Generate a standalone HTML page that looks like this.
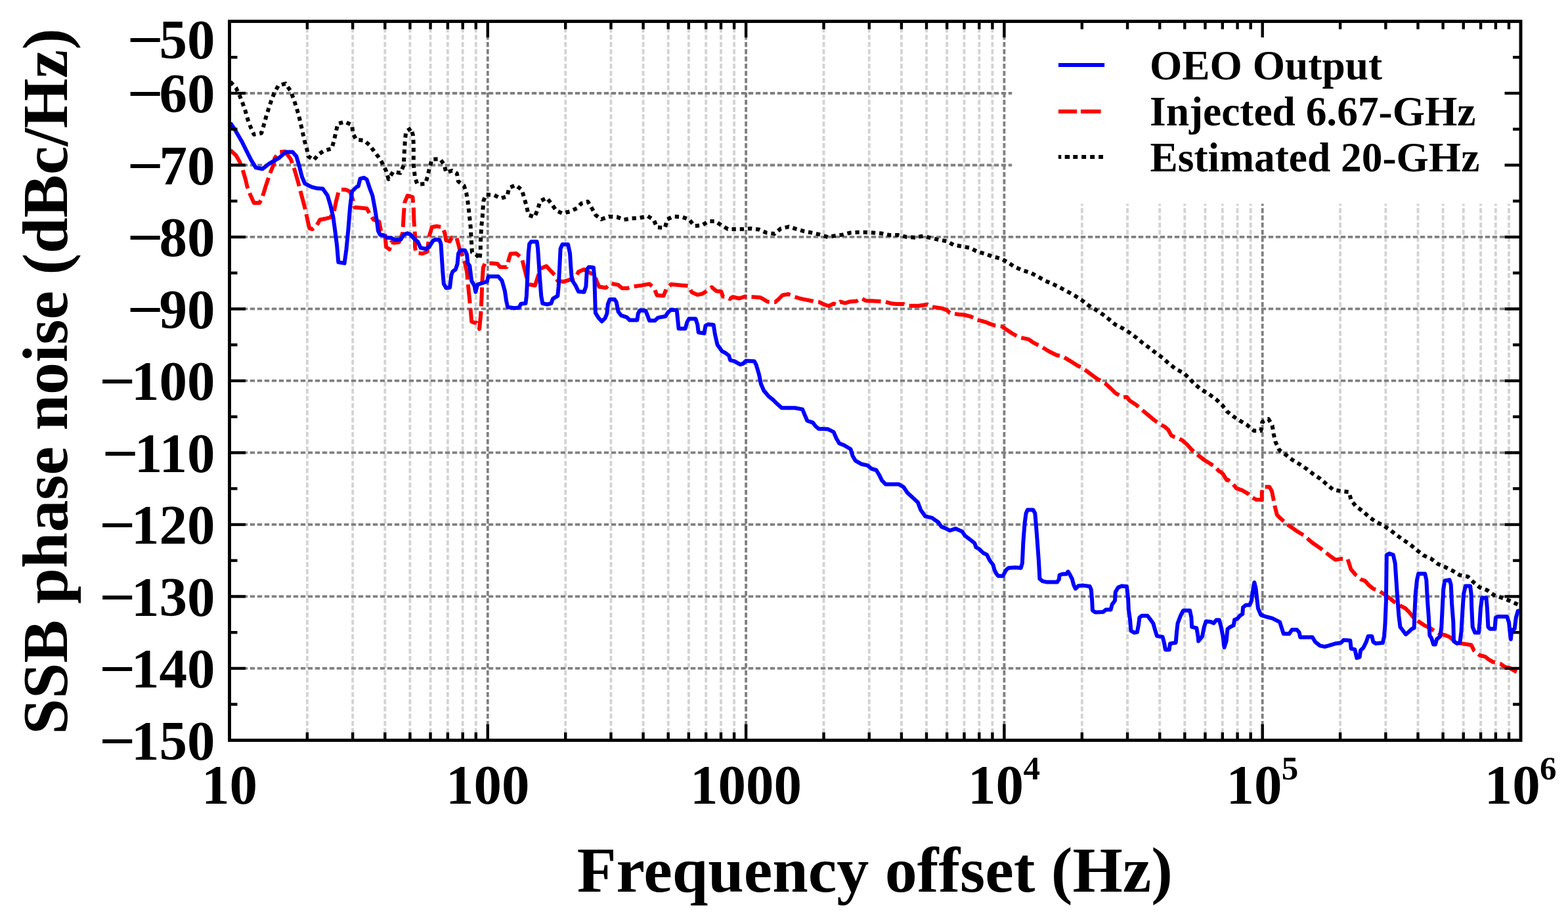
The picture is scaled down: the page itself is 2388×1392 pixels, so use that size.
<!DOCTYPE html>
<html><head><meta charset="utf-8"><title>SSB phase noise</title>
<style>html,body{margin:0;padding:0;background:#fff;}svg{display:block;}</style>
</head><body>
<svg width="2388" height="1392" viewBox="0 0 2388 1392">
<rect x="0" y="0" width="2388" height="1392" fill="#fff"/>
<line x1="467.90" y1="32.5" x2="467.90" y2="1127.4" stroke="#d3d3d3" stroke-width="3.8" stroke-dasharray="7.4 3.6" stroke-dashoffset="1.4"/>
<line x1="537.15" y1="32.5" x2="537.15" y2="1127.4" stroke="#d3d3d3" stroke-width="3.8" stroke-dasharray="7.4 3.6" stroke-dashoffset="1.4"/>
<line x1="586.29" y1="32.5" x2="586.29" y2="1127.4" stroke="#d3d3d3" stroke-width="3.8" stroke-dasharray="7.4 3.6" stroke-dashoffset="1.4"/>
<line x1="624.40" y1="32.5" x2="624.40" y2="1127.4" stroke="#d3d3d3" stroke-width="3.8" stroke-dasharray="7.4 3.6" stroke-dashoffset="1.4"/>
<line x1="655.55" y1="32.5" x2="655.55" y2="1127.4" stroke="#d3d3d3" stroke-width="3.8" stroke-dasharray="7.4 3.6" stroke-dashoffset="1.4"/>
<line x1="681.88" y1="32.5" x2="681.88" y2="1127.4" stroke="#d3d3d3" stroke-width="3.8" stroke-dasharray="7.4 3.6" stroke-dashoffset="1.4"/>
<line x1="704.69" y1="32.5" x2="704.69" y2="1127.4" stroke="#d3d3d3" stroke-width="3.8" stroke-dasharray="7.4 3.6" stroke-dashoffset="1.4"/>
<line x1="724.80" y1="32.5" x2="724.80" y2="1127.4" stroke="#d3d3d3" stroke-width="3.8" stroke-dasharray="7.4 3.6" stroke-dashoffset="1.4"/>
<line x1="861.20" y1="32.5" x2="861.20" y2="1127.4" stroke="#d3d3d3" stroke-width="3.8" stroke-dasharray="7.4 3.6" stroke-dashoffset="1.4"/>
<line x1="930.45" y1="32.5" x2="930.45" y2="1127.4" stroke="#d3d3d3" stroke-width="3.8" stroke-dasharray="7.4 3.6" stroke-dashoffset="1.4"/>
<line x1="979.59" y1="32.5" x2="979.59" y2="1127.4" stroke="#d3d3d3" stroke-width="3.8" stroke-dasharray="7.4 3.6" stroke-dashoffset="1.4"/>
<line x1="1017.70" y1="32.5" x2="1017.70" y2="1127.4" stroke="#d3d3d3" stroke-width="3.8" stroke-dasharray="7.4 3.6" stroke-dashoffset="1.4"/>
<line x1="1048.85" y1="32.5" x2="1048.85" y2="1127.4" stroke="#d3d3d3" stroke-width="3.8" stroke-dasharray="7.4 3.6" stroke-dashoffset="1.4"/>
<line x1="1075.18" y1="32.5" x2="1075.18" y2="1127.4" stroke="#d3d3d3" stroke-width="3.8" stroke-dasharray="7.4 3.6" stroke-dashoffset="1.4"/>
<line x1="1097.99" y1="32.5" x2="1097.99" y2="1127.4" stroke="#d3d3d3" stroke-width="3.8" stroke-dasharray="7.4 3.6" stroke-dashoffset="1.4"/>
<line x1="1118.10" y1="32.5" x2="1118.10" y2="1127.4" stroke="#d3d3d3" stroke-width="3.8" stroke-dasharray="7.4 3.6" stroke-dashoffset="1.4"/>
<line x1="1254.50" y1="32.5" x2="1254.50" y2="1127.4" stroke="#d3d3d3" stroke-width="3.8" stroke-dasharray="7.4 3.6" stroke-dashoffset="1.4"/>
<line x1="1323.75" y1="32.5" x2="1323.75" y2="1127.4" stroke="#d3d3d3" stroke-width="3.8" stroke-dasharray="7.4 3.6" stroke-dashoffset="1.4"/>
<line x1="1372.89" y1="32.5" x2="1372.89" y2="1127.4" stroke="#d3d3d3" stroke-width="3.8" stroke-dasharray="7.4 3.6" stroke-dashoffset="1.4"/>
<line x1="1411.00" y1="32.5" x2="1411.00" y2="1127.4" stroke="#d3d3d3" stroke-width="3.8" stroke-dasharray="7.4 3.6" stroke-dashoffset="1.4"/>
<line x1="1442.15" y1="32.5" x2="1442.15" y2="1127.4" stroke="#d3d3d3" stroke-width="3.8" stroke-dasharray="7.4 3.6" stroke-dashoffset="1.4"/>
<line x1="1468.48" y1="32.5" x2="1468.48" y2="1127.4" stroke="#d3d3d3" stroke-width="3.8" stroke-dasharray="7.4 3.6" stroke-dashoffset="1.4"/>
<line x1="1491.29" y1="32.5" x2="1491.29" y2="1127.4" stroke="#d3d3d3" stroke-width="3.8" stroke-dasharray="7.4 3.6" stroke-dashoffset="1.4"/>
<line x1="1511.40" y1="32.5" x2="1511.40" y2="1127.4" stroke="#d3d3d3" stroke-width="3.8" stroke-dasharray="7.4 3.6" stroke-dashoffset="1.4"/>
<line x1="1647.80" y1="32.5" x2="1647.80" y2="1127.4" stroke="#d3d3d3" stroke-width="3.8" stroke-dasharray="7.4 3.6" stroke-dashoffset="1.4"/>
<line x1="1717.05" y1="32.5" x2="1717.05" y2="1127.4" stroke="#d3d3d3" stroke-width="3.8" stroke-dasharray="7.4 3.6" stroke-dashoffset="1.4"/>
<line x1="1766.19" y1="32.5" x2="1766.19" y2="1127.4" stroke="#d3d3d3" stroke-width="3.8" stroke-dasharray="7.4 3.6" stroke-dashoffset="1.4"/>
<line x1="1804.30" y1="32.5" x2="1804.30" y2="1127.4" stroke="#d3d3d3" stroke-width="3.8" stroke-dasharray="7.4 3.6" stroke-dashoffset="1.4"/>
<line x1="1835.45" y1="32.5" x2="1835.45" y2="1127.4" stroke="#d3d3d3" stroke-width="3.8" stroke-dasharray="7.4 3.6" stroke-dashoffset="1.4"/>
<line x1="1861.78" y1="32.5" x2="1861.78" y2="1127.4" stroke="#d3d3d3" stroke-width="3.8" stroke-dasharray="7.4 3.6" stroke-dashoffset="1.4"/>
<line x1="1884.59" y1="32.5" x2="1884.59" y2="1127.4" stroke="#d3d3d3" stroke-width="3.8" stroke-dasharray="7.4 3.6" stroke-dashoffset="1.4"/>
<line x1="1904.70" y1="32.5" x2="1904.70" y2="1127.4" stroke="#d3d3d3" stroke-width="3.8" stroke-dasharray="7.4 3.6" stroke-dashoffset="1.4"/>
<line x1="2041.10" y1="32.5" x2="2041.10" y2="1127.4" stroke="#d3d3d3" stroke-width="3.8" stroke-dasharray="7.4 3.6" stroke-dashoffset="1.4"/>
<line x1="2110.35" y1="32.5" x2="2110.35" y2="1127.4" stroke="#d3d3d3" stroke-width="3.8" stroke-dasharray="7.4 3.6" stroke-dashoffset="1.4"/>
<line x1="2159.49" y1="32.5" x2="2159.49" y2="1127.4" stroke="#d3d3d3" stroke-width="3.8" stroke-dasharray="7.4 3.6" stroke-dashoffset="1.4"/>
<line x1="2197.60" y1="32.5" x2="2197.60" y2="1127.4" stroke="#d3d3d3" stroke-width="3.8" stroke-dasharray="7.4 3.6" stroke-dashoffset="1.4"/>
<line x1="2228.75" y1="32.5" x2="2228.75" y2="1127.4" stroke="#d3d3d3" stroke-width="3.8" stroke-dasharray="7.4 3.6" stroke-dashoffset="1.4"/>
<line x1="2255.08" y1="32.5" x2="2255.08" y2="1127.4" stroke="#d3d3d3" stroke-width="3.8" stroke-dasharray="7.4 3.6" stroke-dashoffset="1.4"/>
<line x1="2277.89" y1="32.5" x2="2277.89" y2="1127.4" stroke="#d3d3d3" stroke-width="3.8" stroke-dasharray="7.4 3.6" stroke-dashoffset="1.4"/>
<line x1="2298.00" y1="32.5" x2="2298.00" y2="1127.4" stroke="#d3d3d3" stroke-width="3.8" stroke-dasharray="7.4 3.6" stroke-dashoffset="1.4"/>
<line x1="742.80" y1="32.5" x2="742.80" y2="1127.4" stroke="#808080" stroke-width="3.8" stroke-dasharray="7.4 3.6" stroke-dashoffset="1.4"/>
<line x1="1136.10" y1="32.5" x2="1136.10" y2="1127.4" stroke="#808080" stroke-width="3.8" stroke-dasharray="7.4 3.6" stroke-dashoffset="1.4"/>
<line x1="1529.40" y1="32.5" x2="1529.40" y2="1127.4" stroke="#808080" stroke-width="3.8" stroke-dasharray="7.4 3.6" stroke-dashoffset="1.4"/>
<line x1="1922.70" y1="32.5" x2="1922.70" y2="1127.4" stroke="#808080" stroke-width="3.8" stroke-dasharray="7.4 3.6" stroke-dashoffset="1.4"/>
<line x1="349.5" y1="141.99" x2="2316.0" y2="141.99" stroke="#808080" stroke-width="3.8" stroke-dasharray="7.4 3.6" stroke-dashoffset="1.7"/>
<line x1="349.5" y1="251.48" x2="2316.0" y2="251.48" stroke="#808080" stroke-width="3.8" stroke-dasharray="7.4 3.6" stroke-dashoffset="1.7"/>
<line x1="349.5" y1="360.97" x2="2316.0" y2="360.97" stroke="#808080" stroke-width="3.8" stroke-dasharray="7.4 3.6" stroke-dashoffset="1.7"/>
<line x1="349.5" y1="470.46" x2="2316.0" y2="470.46" stroke="#808080" stroke-width="3.8" stroke-dasharray="7.4 3.6" stroke-dashoffset="1.7"/>
<line x1="349.5" y1="579.95" x2="2316.0" y2="579.95" stroke="#808080" stroke-width="3.8" stroke-dasharray="7.4 3.6" stroke-dashoffset="1.7"/>
<line x1="349.5" y1="689.44" x2="2316.0" y2="689.44" stroke="#808080" stroke-width="3.8" stroke-dasharray="7.4 3.6" stroke-dashoffset="1.7"/>
<line x1="349.5" y1="798.93" x2="2316.0" y2="798.93" stroke="#808080" stroke-width="3.8" stroke-dasharray="7.4 3.6" stroke-dashoffset="1.7"/>
<line x1="349.5" y1="908.42" x2="2316.0" y2="908.42" stroke="#808080" stroke-width="3.8" stroke-dasharray="7.4 3.6" stroke-dashoffset="1.7"/>
<line x1="349.5" y1="1017.91" x2="2316.0" y2="1017.91" stroke="#808080" stroke-width="3.8" stroke-dasharray="7.4 3.6" stroke-dashoffset="1.7"/>
<rect x="1541.2" y="32.5" width="774.8" height="277.8" fill="#fff"/>
<defs><clipPath id="pc"><rect x="349.5" y="32.5" width="1966.5" height="1094.9"/></clipPath></defs>
<g clip-path="url(#pc)" fill="none">
<polyline points="350.8,124.5 359.4,133.8 365.1,146 369.4,156.8 373.7,169 377.3,181.9 381.6,193.4 386.7,204.9 398.2,202.7 401.8,190.5 405.3,177.6 408.9,166.1 413.2,153.2 417.6,141.7 424,130.2 434.8,127.3 442.7,138.8 447,150.3 451.3,163.2 454.9,175.4 457.8,187.6 460.7,200.6 463.5,213.5 467.1,225.7 469.3,237.9 477.9,243.7 485.1,235.1 493.7,229.3 505.2,226.4 508.8,213.5 511.7,200.6 514.5,188.4 525.3,185.5 536.1,190.5 537.5,203.4 542.4,212.7 554.4,213.9 563,221.1 570.2,231.2 578.1,241.2 583.1,249.9 588.1,260.6 591.7,272.8 598.9,261.4 609.7,263.5 614.7,252 615.4,239.1 616.1,226.1 616.9,213.2 618.3,200.3 626.2,195.3 629.1,206.8 629.8,219.7 629.8,231.9 629.8,244.8 630.5,257 632,270 635.5,280.7 647.8,280 651.4,267.8 654.2,255.6 657.8,242.7 670,242 676.5,250.6 679.4,262.8 688.7,259.9 695.9,264.2 698,276.4 706.7,282.9 710.3,294.4 712.4,307.3 713.9,319.5 715.3,332.5 716.7,345.4 717.4,358.9 718.2,371.8 718.9,384.1 726.8,389.1 730.4,394.8 731.8,382.6 731.8,370.4 732.5,357.5 733.2,344.5 734.7,331.6 735.4,318.7 736.5,305.6 740.1,296.3 752.3,297 762.4,302 772.4,299.1 775.3,286.2 785.4,281.9 794.7,289.1 798.3,301.3 801.9,314.2 804.8,327.2 814.1,330.7 819.1,318.5 822.7,306.3 832.8,301.3 840,310.6 847.2,320.7 856.5,325 868,322.1 878.8,317.1 885.2,309.9 895.3,307 901.7,317.8 907.5,327.9 915.7,334 927.2,329.7 939.5,330.4 950.2,334.7 961.7,332.6 974.7,331.8 986.1,329 995.5,334.7 1000.5,346.2 1012.7,346.9 1016.3,334 1025.7,329.7 1038.6,330.4 1049.4,334 1057.3,344.1 1068.8,343.3 1079.5,336.9 1089.6,336.9 1098.9,343.3 1108.6,348.9 1118.7,348.9 1130.9,348.9 1143.1,348.1 1156,349.6 1167.5,354.6 1179.7,356 1189.1,348.1 1201.3,345.3 1212.8,348.9 1225,352.4 1237.2,354.6 1249.4,357.5 1260.9,361.1 1272.4,358.9 1283.2,357.5 1295,354.5 1307.2,353.8 1317.3,353.8 1330.2,354.5 1343.2,355.6 1355.4,358.1 1368.3,358.1 1380.5,360.9 1393.4,361.7 1405.7,359.5 1417.9,362.4 1430.1,365.3 1442.3,367.4 1452.4,373.2 1465.3,375.3 1477.5,377.5 1487.9,383 1500.1,386.6 1512.3,390.9 1524.5,393.8 1534.6,399.5 1545.4,406.7 1557.6,411.7 1569.1,415.3 1580.6,421.1 1591.4,427.5 1603.6,432.6 1615.1,438.3 1625.8,444.1 1637.3,450.5 1647.4,457 1657.4,464.9 1668.2,471.4 1679.3,478.7 1689.4,486.6 1698.7,494.5 1710.2,500.2 1720.3,506.7 1731.1,514.6 1740.4,522.5 1751.2,530.4 1761.2,538.3 1771.3,545.5 1780.6,554.1 1790.7,562 1802.2,567.8 1811.5,576.4 1820.1,585.7 1830.2,593.6 1841,600.1 1851.8,608 1861.1,616.6 1868.6,626.6 1878.7,634.5 1888.7,640.9 1899.5,647.4 1909.6,656 1920.3,656 1922.5,642.4 1931.8,638.1 1937.6,648.1 1939.7,661.1 1942.6,673.3 1948.4,685.5 1958.4,692.7 1968.5,700.6 1979.3,707 1990,714.2 2000.1,722.1 2010.9,729.3 2020.9,737.9 2030.3,745.8 2042.5,748 2054.7,749.4 2057.6,761.6 2065.1,771.1 2075.1,778.3 2084.5,786.9 2094.5,794.1 2106,799.9 2116.8,807 2126.9,814.9 2136.9,822.1 2147.7,829.3 2157.8,837.9 2167.8,845.8 2179.4,850.8 2189.5,858.7 2201,863.7 2212.5,869.4 2223.2,876 2235.4,878.1 2243.7,886.4 2253.5,894.6 2265,898.9 2275,906.1 2287.2,910.4 2298.7,914.7 2309.5,919.7 2316,922.5" stroke="#000" stroke-width="6.0" stroke-dasharray="6.3 5.9" stroke-linejoin="round"/>
<polyline points="350.8,228.8 359.4,236.5 365.1,246.6 369.4,258 373.7,272.4 376.6,284.5 380.9,296 386.7,308.9 395.3,308.9 399.6,300.3 405.3,281.6 411.1,264.4 416.8,250 418.3,240.8 425.5,231.5 434.1,230.7 442.7,242.2 448.4,258 454.2,278 460,300.3 465,319 468.6,336.2 471.4,347.7 475.7,349.1 481.5,344.8 487.2,334.8 494.4,333.3 503,331.2 508.8,321.8 511.7,307.5 515.3,293.1 517.4,288.8 526,288.8 533.2,291.7 537.5,304.6 539,314 540,315.8 558.7,317.4 563,325.5 568.7,334.5 577.4,337.5 580.2,351.7 586,354.6 588.1,376.1 593.2,379.7 596,369 600.3,369.7 607.5,369 613.3,354.6 614.7,328.7 616.1,309 620.5,298 628.4,300.1 629.8,315.2 630.5,336.8 632,357.5 632,376.1 633.4,384.8 643.4,386.2 650.6,383.3 653.5,360.3 657.8,346 665,344.5 673.6,346 677.2,354.6 679.4,366.1 685.1,367.5 688,361.8 695.2,361.8 698,371.8 700.9,383.3 703.8,387.6 708.1,400.6 711,413.5 712.4,429.3 714.6,450.9 716.7,472.4 718.2,489.7 722.5,491.5 725.7,491.5 730.1,500.9 732.2,479.3 733.6,450.6 734.4,429 735.8,407.5 738.7,401 748.7,401 757.4,401.7 761.7,406.8 771.7,406.8 774.6,396 777.5,386.6 786.1,385.9 794.7,393.1 798.3,407.5 801.9,421.8 806.2,433.3 814.8,434.8 819.1,421.8 823.4,408.9 832.1,405.3 839.3,413.2 845,419 849.3,427.6 857.9,429 865.1,426.9 876.6,423.3 880.9,413.9 889.5,410.3 898.2,415.4 905.3,419 909.7,430.5 912.5,436.7 922.9,438.2 930.1,431.7 941.6,433.9 947.4,438.9 956,438.9 963.2,436.7 977.5,434.6 989,432.4 996.2,438.9 1000.5,449.7 1010.6,450.4 1014.9,439.6 1022.1,433.1 1037.9,434.6 1047.9,435.3 1053.7,445.3 1062.3,448.9 1069.5,447.5 1075.2,443.9 1083.9,437.4 1091,443.2 1098.2,443.9 1101.1,451.8 1105.7,451.6 1111.5,455.2 1115.8,452.3 1125.9,454.5 1134.5,451.6 1146,452.3 1157.5,453 1161.8,455.2 1169,459.5 1180.5,460.2 1186.2,455.2 1192,449.4 1200.6,448 1209.2,451.6 1217.8,454.5 1227.9,456.6 1235.1,458 1240.8,459.5 1248,460.2 1255.2,463.8 1262.4,466 1269.5,462.4 1274.6,463.8 1279.6,459.5 1286.8,461.6 1294,459.5 1304.4,458.6 1311.6,454.3 1318.7,457.9 1327.4,458.2 1347.5,459.4 1357.5,462.2 1364.7,463 1376.2,463 1383.4,465.8 1399.2,465.8 1412.1,463.7 1419.3,467.3 1433.7,469.4 1442.3,472.3 1446.6,476.6 1459.5,478.8 1468.2,479.5 1476.8,481.6 1484,484.5 1487.2,487.2 1494.4,488.6 1501.6,490.7 1508.7,493.6 1515.9,495.8 1526,497.2 1533.2,502.2 1541.8,508 1551.8,513.7 1566.2,516.6 1574.8,522.4 1586.3,528.1 1597.8,535.3 1609.3,541 1617.9,542.5 1630.9,550.4 1640.9,556.8 1648.1,560 1670,576.4 1682.9,583.6 1691.6,591.5 1698.7,598.7 1710.2,605.1 1716,604.4 1720.3,610.1 1730.3,616.6 1740.4,625.2 1749,632.4 1757.6,639.6 1767.7,646.8 1774.3,650.2 1779.1,654.5 1783.8,663.1 1789,665.7 1795.9,668.3 1801,670.9 1807.9,676.9 1814,683.8 1820,689.8 1826.9,695 1834.7,701 1843.3,706.2 1851,711.4 1856.2,717.4 1860,719.3 1863.1,722.6 1868.3,731.2 1870.1,730.7 1877.2,736.5 1883,743.7 1891.6,746.6 1900.2,751.6 1907.4,758 1913.2,760.9 1921.8,760.9 1921.8,749.4 1924.7,741.5 1933.3,741.5 1936.9,748 1939,758 1941.9,772.4 1944.8,783.9 1949.1,788.6 1960.6,798.7 1974.9,808.7 1986.4,815.9 1997.9,826 2012.3,836 2026.7,847.5 2033.9,852.6 2042.5,851.1 2052.5,851.8 2055.4,860.5 2057.2,866.7 2064.4,875.3 2073,882.5 2078.7,884.6 2084.5,891.1 2091.7,896.8 2100.8,900.1 2108,905.1 2115.2,910.2 2122.4,915.9 2132.4,922.4 2140,926.2 2145.7,931.9 2152.9,940.6 2160.1,946.3 2168.7,952.1 2177.4,956.4 2184.5,960.7 2191.7,965 2200.3,967.1 2207.5,970 2217.6,978.6 2226.2,980.1 2240.6,982.2 2244.9,990.8 2253.5,998 2262.1,1000.2 2266.4,1003.8 2273.6,1008.1 2285.1,1010.9 2292.3,1016 2299.5,1017.4 2306.6,1021.7 2316,1026.5" stroke="#ff0000" stroke-width="6.0" stroke-dasharray="29 7.5" stroke-linejoin="round"/>
<polyline points="350.8,187.3 357.9,197.7 368,214.9 375.2,229.3 382.4,243.7 389.5,255.2 399.6,257.3 409.7,249.4 425.5,240.1 435.5,231.5 445.6,231.5 451.3,237.9 455.6,252.3 460,269.5 464.3,279.6 474.3,284.6 482.9,286.8 491.6,287.5 498.7,297.4 503,311.8 507.4,330.5 510.2,350.6 513.1,373.6 515.3,399.4 524.6,400.9 527.5,379.3 530.3,350.6 533.2,314.7 536.1,291.7 543.3,284.5 545.7,283.6 548.6,272.1 554.4,270.7 558.7,273.6 563,286.5 567.3,298 570.9,317.2 573.8,335.9 575.9,351.7 578.8,357.5 584.5,358.2 588.9,361.8 596,362.5 601.8,365.4 610.4,364.7 614.7,357.5 620.5,355.3 624.8,356.8 630.5,363.2 636.3,368.2 640.6,377.6 649.2,379 653.5,376.1 659.3,366.8 663.6,364.7 669.3,365.4 671.5,371.8 672.9,393.4 674.3,414.9 675.8,432.2 679.4,438.6 685.1,437.9 687.3,419.3 689.4,413.5 693.7,410.6 696.6,402 698,386.2 700.9,381.2 708.1,381.2 711,387.6 712.4,400.6 715.3,404.9 718.2,427.9 722.5,435.1 724.3,444.8 727.2,433.3 734.4,431.2 741.6,429 743.7,421.1 758.8,421.1 764.5,427.6 768.9,443.4 771,457.8 773.2,467.8 783.2,469.3 790.4,468.5 793.3,462.8 800.5,462.1 801.9,450.6 803.3,421.8 804.8,385.9 806.2,371.6 809.1,368 817.7,368 819.1,378.7 820.6,400.3 822,421.8 824.2,450.6 826.3,462.1 833.5,463.5 839.3,462.1 842.1,454.9 849.3,450.6 850.7,436.2 852.2,407.5 853.6,378.7 856.5,372.3 865.1,372.3 868,385.9 869.4,407.5 870.9,426.1 876.6,434.8 880.9,444.1 889.5,444.8 892.4,436.2 893.9,410.3 896.7,406.8 903.9,407.5 905.3,421.8 906.1,450.6 906.8,476.4 911.5,484 916.5,489.5 921.5,484.7 924.4,477.5 925.8,463.1 928.7,455.9 935.9,455.9 938.7,460.2 941.6,474.6 945.9,480.3 954.5,483.2 958.9,487.5 970.3,487.5 971.8,477.5 974.7,472.4 983.3,473.2 986.1,480.3 989,488.2 997.6,488.2 1002,483.9 1013.4,481.8 1017.8,475.3 1022.1,471.7 1030.7,472.4 1032.1,486.1 1033.6,500.5 1043.6,500.5 1046.5,490.4 1049.4,485.4 1059.4,485.4 1062.3,494.7 1063.7,506.2 1072.4,507.6 1074.5,496.1 1078.1,494 1086.7,494.7 1088.9,509.1 1092.5,524.9 1099.7,534.9 1104.3,537.2 1110.1,541.6 1112.2,548.7 1118.7,550.2 1127.3,555.2 1131.6,553.8 1135.9,549.5 1148.9,550.2 1151.7,555.9 1156,570.3 1158.9,584.7 1163.2,594.7 1170.4,603.3 1177.6,609.1 1183.3,614.8 1190.5,621.3 1210.6,621.3 1222.1,623.4 1225.7,632.1 1229.3,640.7 1237.9,643.6 1242.2,649.3 1246.6,652.9 1260.9,653.6 1269.5,657.9 1273.9,668 1278.2,675.2 1285.3,678 1295.5,684 1298.6,694.5 1302.9,701.7 1311.6,706.7 1321.6,708.9 1327.4,713.9 1334.5,716 1338.9,723.2 1343.2,731.8 1348.9,737.6 1369,737.6 1376.2,741.9 1382,750.5 1390.6,758.4 1397.8,764.9 1402.1,776.4 1409.3,786.4 1419.3,788.6 1429.4,795.8 1433.7,802.2 1439.4,804.4 1446.6,808 1455.2,805.1 1465.3,809.4 1469.6,815.9 1475.3,820.2 1484.1,827 1486.5,833.4 1491.5,836.3 1497.2,842 1503,844.9 1507.3,853.5 1512.3,860 1514.5,867.9 1517.4,873.6 1520.2,877.2 1527.4,877.2 1532.4,867.9 1536,865 1546.1,864.3 1554.7,865 1556.9,857.8 1558.3,826.2 1560.5,797.5 1562.6,781.7 1564.8,776.6 1573.4,776.6 1576.3,781.7 1577.7,797.5 1579.9,826.2 1582,854.9 1583.4,881.5 1587.8,885.1 1594.9,886.6 1610,886.6 1612.9,882.2 1613.6,875.8 1617.9,874.3 1623.7,874.3 1626.6,870.7 1629.4,875.1 1633,882.2 1635.2,890.9 1638,896.6 1642.4,892.3 1649.5,891.6 1659.6,893 1661.8,898 1663.2,915.3 1663.9,929.7 1668.2,932.5 1680.1,932 1684.4,928.4 1691.6,928.4 1693.7,920.5 1698,914.7 1698.7,901.8 1703,894.6 1708.8,892.4 1716,893.2 1718.1,911.8 1718.9,929.1 1721,943.4 1722.4,960.7 1727.5,963.6 1731.8,962.8 1733.9,952.1 1735.4,940.6 1739,937.7 1747.6,937.7 1751.9,943.4 1756.2,949.2 1759.1,959.3 1762,968.6 1770.6,970 1772.7,977.9 1774.9,989.4 1780.6,989.4 1782.1,980.1 1790.7,978.7 1792.1,962.1 1793.6,949.2 1797.9,937.7 1802.2,929.8 1812.2,929.8 1814.4,940.6 1815.1,954.9 1822.3,956.4 1824.5,969.3 1825.2,976.5 1830.9,969.3 1833.8,954.9 1836.7,946.3 1843.9,947 1848.2,949.2 1852.5,944.2 1856.8,944.2 1859.7,954.9 1862.5,969.3 1864.5,986 1867.6,976.5 1869.5,958 1872.9,955.3 1878.7,952.4 1880.1,943.8 1884.4,942.4 1888.7,937.3 1892.3,935.2 1893,925.1 1897.4,921.5 1903.1,921.5 1906,915.1 1907.4,903.6 1910.3,887 1912.4,894.9 1913.9,909.3 1916,926.6 1920.3,936.6 1929,939.5 1937.6,941.6 1949.1,947.4 1952,956.7 1954.8,965.3 1963.4,965.3 1967.8,958.9 1974.9,958.9 1978.7,963.3 1980.1,970.5 1998.8,970.5 2003.1,977.7 2010.3,983.4 2017.5,984.9 2023.2,983.4 2034.7,979.9 2041.9,979.1 2046.2,974.8 2056.3,975.5 2057.7,987.8 2063.4,989.2 2066.3,1002.1 2070.6,1000.7 2072.1,990.6 2076.4,986.3 2080.7,977.7 2083.6,969.1 2089.3,969.1 2091.5,977.7 2095,979.9 2105.8,979.1 2108,969.1 2109.4,951.8 2110.9,915.9 2111.8,845.1 2116.1,843 2121.8,845.1 2124.7,858 2128.1,908.7 2130.3,937.5 2132.4,954.7 2141,966.2 2145.7,962.1 2150.1,957.8 2153.6,956.4 2154.4,933.4 2155.8,904.6 2158,883.1 2160.1,873.8 2170.2,873.8 2172.3,883.1 2173.8,911.8 2175.9,940.6 2177.4,967.9 2180.2,972.2 2183.1,981.5 2186,981.5 2188.1,973.6 2193.2,969.3 2195.3,954.9 2196.7,926.2 2198.2,897.5 2200.3,884.5 2207.5,883.1 2209.7,890.3 2211.1,919 2213.3,947.7 2214,976.5 2219,980.1 2223.3,978.6 2225.5,962.1 2227.6,926.2 2229.1,904.6 2231.9,892.4 2239.1,892.4 2240.6,904.6 2241.3,926.2 2242.7,954.9 2246.3,963.5 2252.1,963.5 2253.5,947.7 2254.9,926.2 2257.1,910.4 2263.5,910.4 2264.9,926.2 2266.4,954.9 2269.3,957.8 2276.5,957.8 2277.9,940.6 2280.8,939.1 2295.1,939.1 2298,947.7 2299.5,962.1 2300.9,973.6 2302.3,959.2 2306.6,957.8 2308.8,940.6 2311.7,930.5 2316,930.5" stroke="#0000ff" stroke-width="6.0" stroke-linejoin="round"/>
</g>
<g stroke="#000" stroke-width="4.4">
<rect x="349.5" y="32.5" width="1966.5" height="1094.9" fill="none" stroke="#000" stroke-width="4.9"/>
<line x1="467.90" y1="1127.4" x2="467.90" y2="1115.40"/>
<line x1="467.90" y1="32.5" x2="467.90" y2="44.50"/>
<line x1="537.15" y1="1127.4" x2="537.15" y2="1115.40"/>
<line x1="537.15" y1="32.5" x2="537.15" y2="44.50"/>
<line x1="586.29" y1="1127.4" x2="586.29" y2="1115.40"/>
<line x1="586.29" y1="32.5" x2="586.29" y2="44.50"/>
<line x1="624.40" y1="1127.4" x2="624.40" y2="1115.40"/>
<line x1="624.40" y1="32.5" x2="624.40" y2="44.50"/>
<line x1="655.55" y1="1127.4" x2="655.55" y2="1115.40"/>
<line x1="655.55" y1="32.5" x2="655.55" y2="44.50"/>
<line x1="681.88" y1="1127.4" x2="681.88" y2="1115.40"/>
<line x1="681.88" y1="32.5" x2="681.88" y2="44.50"/>
<line x1="704.69" y1="1127.4" x2="704.69" y2="1115.40"/>
<line x1="704.69" y1="32.5" x2="704.69" y2="44.50"/>
<line x1="724.80" y1="1127.4" x2="724.80" y2="1115.40"/>
<line x1="724.80" y1="32.5" x2="724.80" y2="44.50"/>
<line x1="742.80" y1="1127.4" x2="742.80" y2="1102.90"/>
<line x1="742.80" y1="32.5" x2="742.80" y2="57.00"/>
<line x1="861.20" y1="1127.4" x2="861.20" y2="1115.40"/>
<line x1="861.20" y1="32.5" x2="861.20" y2="44.50"/>
<line x1="930.45" y1="1127.4" x2="930.45" y2="1115.40"/>
<line x1="930.45" y1="32.5" x2="930.45" y2="44.50"/>
<line x1="979.59" y1="1127.4" x2="979.59" y2="1115.40"/>
<line x1="979.59" y1="32.5" x2="979.59" y2="44.50"/>
<line x1="1017.70" y1="1127.4" x2="1017.70" y2="1115.40"/>
<line x1="1017.70" y1="32.5" x2="1017.70" y2="44.50"/>
<line x1="1048.85" y1="1127.4" x2="1048.85" y2="1115.40"/>
<line x1="1048.85" y1="32.5" x2="1048.85" y2="44.50"/>
<line x1="1075.18" y1="1127.4" x2="1075.18" y2="1115.40"/>
<line x1="1075.18" y1="32.5" x2="1075.18" y2="44.50"/>
<line x1="1097.99" y1="1127.4" x2="1097.99" y2="1115.40"/>
<line x1="1097.99" y1="32.5" x2="1097.99" y2="44.50"/>
<line x1="1118.10" y1="1127.4" x2="1118.10" y2="1115.40"/>
<line x1="1118.10" y1="32.5" x2="1118.10" y2="44.50"/>
<line x1="1136.10" y1="1127.4" x2="1136.10" y2="1102.90"/>
<line x1="1136.10" y1="32.5" x2="1136.10" y2="57.00"/>
<line x1="1254.50" y1="1127.4" x2="1254.50" y2="1115.40"/>
<line x1="1254.50" y1="32.5" x2="1254.50" y2="44.50"/>
<line x1="1323.75" y1="1127.4" x2="1323.75" y2="1115.40"/>
<line x1="1323.75" y1="32.5" x2="1323.75" y2="44.50"/>
<line x1="1372.89" y1="1127.4" x2="1372.89" y2="1115.40"/>
<line x1="1372.89" y1="32.5" x2="1372.89" y2="44.50"/>
<line x1="1411.00" y1="1127.4" x2="1411.00" y2="1115.40"/>
<line x1="1411.00" y1="32.5" x2="1411.00" y2="44.50"/>
<line x1="1442.15" y1="1127.4" x2="1442.15" y2="1115.40"/>
<line x1="1442.15" y1="32.5" x2="1442.15" y2="44.50"/>
<line x1="1468.48" y1="1127.4" x2="1468.48" y2="1115.40"/>
<line x1="1468.48" y1="32.5" x2="1468.48" y2="44.50"/>
<line x1="1491.29" y1="1127.4" x2="1491.29" y2="1115.40"/>
<line x1="1491.29" y1="32.5" x2="1491.29" y2="44.50"/>
<line x1="1511.40" y1="1127.4" x2="1511.40" y2="1115.40"/>
<line x1="1511.40" y1="32.5" x2="1511.40" y2="44.50"/>
<line x1="1529.40" y1="1127.4" x2="1529.40" y2="1102.90"/>
<line x1="1529.40" y1="32.5" x2="1529.40" y2="57.00"/>
<line x1="1647.80" y1="1127.4" x2="1647.80" y2="1115.40"/>
<line x1="1647.80" y1="32.5" x2="1647.80" y2="44.50"/>
<line x1="1717.05" y1="1127.4" x2="1717.05" y2="1115.40"/>
<line x1="1717.05" y1="32.5" x2="1717.05" y2="44.50"/>
<line x1="1766.19" y1="1127.4" x2="1766.19" y2="1115.40"/>
<line x1="1766.19" y1="32.5" x2="1766.19" y2="44.50"/>
<line x1="1804.30" y1="1127.4" x2="1804.30" y2="1115.40"/>
<line x1="1804.30" y1="32.5" x2="1804.30" y2="44.50"/>
<line x1="1835.45" y1="1127.4" x2="1835.45" y2="1115.40"/>
<line x1="1835.45" y1="32.5" x2="1835.45" y2="44.50"/>
<line x1="1861.78" y1="1127.4" x2="1861.78" y2="1115.40"/>
<line x1="1861.78" y1="32.5" x2="1861.78" y2="44.50"/>
<line x1="1884.59" y1="1127.4" x2="1884.59" y2="1115.40"/>
<line x1="1884.59" y1="32.5" x2="1884.59" y2="44.50"/>
<line x1="1904.70" y1="1127.4" x2="1904.70" y2="1115.40"/>
<line x1="1904.70" y1="32.5" x2="1904.70" y2="44.50"/>
<line x1="1922.70" y1="1127.4" x2="1922.70" y2="1102.90"/>
<line x1="1922.70" y1="32.5" x2="1922.70" y2="57.00"/>
<line x1="2041.10" y1="1127.4" x2="2041.10" y2="1115.40"/>
<line x1="2041.10" y1="32.5" x2="2041.10" y2="44.50"/>
<line x1="2110.35" y1="1127.4" x2="2110.35" y2="1115.40"/>
<line x1="2110.35" y1="32.5" x2="2110.35" y2="44.50"/>
<line x1="2159.49" y1="1127.4" x2="2159.49" y2="1115.40"/>
<line x1="2159.49" y1="32.5" x2="2159.49" y2="44.50"/>
<line x1="2197.60" y1="1127.4" x2="2197.60" y2="1115.40"/>
<line x1="2197.60" y1="32.5" x2="2197.60" y2="44.50"/>
<line x1="2228.75" y1="1127.4" x2="2228.75" y2="1115.40"/>
<line x1="2228.75" y1="32.5" x2="2228.75" y2="44.50"/>
<line x1="2255.08" y1="1127.4" x2="2255.08" y2="1115.40"/>
<line x1="2255.08" y1="32.5" x2="2255.08" y2="44.50"/>
<line x1="2277.89" y1="1127.4" x2="2277.89" y2="1115.40"/>
<line x1="2277.89" y1="32.5" x2="2277.89" y2="44.50"/>
<line x1="2298.00" y1="1127.4" x2="2298.00" y2="1115.40"/>
<line x1="2298.00" y1="32.5" x2="2298.00" y2="44.50"/>
<line x1="349.5" y1="87.25" x2="361.50" y2="87.25"/>
<line x1="2316.0" y1="87.25" x2="2304.00" y2="87.25"/>
<line x1="349.5" y1="141.99" x2="374.00" y2="141.99"/>
<line x1="2316.0" y1="141.99" x2="2291.50" y2="141.99"/>
<line x1="349.5" y1="196.74" x2="361.50" y2="196.74"/>
<line x1="2316.0" y1="196.74" x2="2304.00" y2="196.74"/>
<line x1="349.5" y1="251.48" x2="374.00" y2="251.48"/>
<line x1="2316.0" y1="251.48" x2="2291.50" y2="251.48"/>
<line x1="349.5" y1="306.23" x2="361.50" y2="306.23"/>
<line x1="2316.0" y1="306.23" x2="2304.00" y2="306.23"/>
<line x1="349.5" y1="360.97" x2="374.00" y2="360.97"/>
<line x1="2316.0" y1="360.97" x2="2291.50" y2="360.97"/>
<line x1="349.5" y1="415.72" x2="361.50" y2="415.72"/>
<line x1="2316.0" y1="415.72" x2="2304.00" y2="415.72"/>
<line x1="349.5" y1="470.46" x2="374.00" y2="470.46"/>
<line x1="2316.0" y1="470.46" x2="2291.50" y2="470.46"/>
<line x1="349.5" y1="525.21" x2="361.50" y2="525.21"/>
<line x1="2316.0" y1="525.21" x2="2304.00" y2="525.21"/>
<line x1="349.5" y1="579.95" x2="374.00" y2="579.95"/>
<line x1="2316.0" y1="579.95" x2="2291.50" y2="579.95"/>
<line x1="349.5" y1="634.70" x2="361.50" y2="634.70"/>
<line x1="2316.0" y1="634.70" x2="2304.00" y2="634.70"/>
<line x1="349.5" y1="689.44" x2="374.00" y2="689.44"/>
<line x1="2316.0" y1="689.44" x2="2291.50" y2="689.44"/>
<line x1="349.5" y1="744.19" x2="361.50" y2="744.19"/>
<line x1="2316.0" y1="744.19" x2="2304.00" y2="744.19"/>
<line x1="349.5" y1="798.93" x2="374.00" y2="798.93"/>
<line x1="2316.0" y1="798.93" x2="2291.50" y2="798.93"/>
<line x1="349.5" y1="853.68" x2="361.50" y2="853.68"/>
<line x1="2316.0" y1="853.68" x2="2304.00" y2="853.68"/>
<line x1="349.5" y1="908.42" x2="374.00" y2="908.42"/>
<line x1="2316.0" y1="908.42" x2="2291.50" y2="908.42"/>
<line x1="349.5" y1="963.17" x2="361.50" y2="963.17"/>
<line x1="2316.0" y1="963.17" x2="2304.00" y2="963.17"/>
<line x1="349.5" y1="1017.91" x2="374.00" y2="1017.91"/>
<line x1="2316.0" y1="1017.91" x2="2291.50" y2="1017.91"/>
<line x1="349.5" y1="1072.66" x2="361.50" y2="1072.66"/>
<line x1="2316.0" y1="1072.66" x2="2304.00" y2="1072.66"/>
</g>
<line x1="1611.9" y1="98.9" x2="1682.1" y2="98.9" stroke="#0000ff" stroke-width="6.0"/>
<line x1="1611.9" y1="169.8" x2="1676.6" y2="169.8" stroke="#ff0000" stroke-width="6.0" stroke-dasharray="28.1 5.9 40 10"/>
<line x1="1611.9" y1="239" x2="1680" y2="239" stroke="#000" stroke-width="6.0" stroke-dasharray="4.3 5.5 7.4 5.2 6.9 6 6.9 6.1 6.9 6 6.9 20"/>
<g font-family='"Liberation Serif", "Times New Roman", serif' font-weight="bold" font-size="63.4" fill="#000">
<text x="1751" y="120.5">OEO Output</text>
<text x="1751" y="191.2">Injected 6.67-GHz</text>
<text x="1751.5" y="260.9">Estimated 20-GHz</text>
</g>
<g font-family='"Liberation Serif", "Times New Roman", serif' font-weight="bold" font-size="85" fill="#000">
<text x="327.6" y="89.1" text-anchor="end">50</text>
<text transform="translate(193.4,89.1) scale(1.142,1)">−</text>
<text x="327.6" y="171.1" text-anchor="end">60</text>
<text transform="translate(193.4,171.1) scale(1.142,1)">−</text>
<text x="327.6" y="280.6" text-anchor="end">70</text>
<text transform="translate(193.4,280.6) scale(1.142,1)">−</text>
<text x="327.6" y="390.1" text-anchor="end">80</text>
<text transform="translate(193.4,390.1) scale(1.142,1)">−</text>
<text x="327.6" y="499.6" text-anchor="end">90</text>
<text transform="translate(193.4,499.6) scale(1.142,1)">−</text>
<text x="327.6" y="609.1" text-anchor="end">100</text>
<text transform="translate(150.9,609.1) scale(1.142,1)">−</text>
<text x="327.6" y="718.5" text-anchor="end">110</text>
<text transform="translate(155.6,718.5) scale(1.142,1)">−</text>
<text x="327.6" y="828.0" text-anchor="end">120</text>
<text transform="translate(150.9,828.0) scale(1.142,1)">−</text>
<text x="327.6" y="937.5" text-anchor="end">130</text>
<text transform="translate(150.9,937.5) scale(1.142,1)">−</text>
<text x="327.6" y="1047.0" text-anchor="end">140</text>
<text transform="translate(150.9,1047.0) scale(1.142,1)">−</text>
<text x="327.6" y="1156.5" text-anchor="end">150</text>
<text transform="translate(150.9,1156.5) scale(1.142,1)">−</text>
<text x="349.5" y="1224.2" text-anchor="middle">10</text>
<text x="742.8" y="1224.2" text-anchor="middle">100</text>
<text x="1136.1" y="1224.2" text-anchor="middle">1000</text>
<text x="1474.1" y="1224.2">10</text>
<text x="1558.5" y="1186.8" font-size="51">4</text>
<text x="1867.4" y="1224.2">10</text>
<text x="1951.8" y="1186.8" font-size="51">5</text>
<text x="2260.7" y="1224.2">10</text>
<text x="2345.1" y="1186.8" font-size="51">6</text>
</g>
<text x="878.7" y="1358" font-family='"Liberation Serif", "Times New Roman", serif' font-weight="bold" font-size="98">Frequency offset (Hz)</text>
<text transform="translate(102,1118.5) rotate(-90)" font-family='"Liberation Serif", "Times New Roman", serif' font-weight="bold" font-size="98">SSB phase noise (dBc/Hz)</text>
</svg>
</body></html>
